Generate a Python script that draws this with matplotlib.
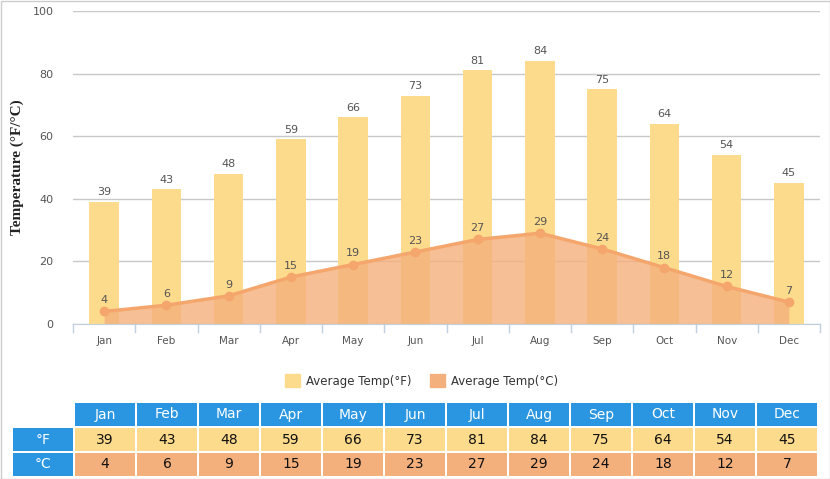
import numpy as np
import matplotlib
matplotlib.use("Agg")
import matplotlib.pyplot as plt
from matplotlib.patches import Rectangle

# ── Daten ──────────────────────────────────────────────────────────────────────
months = ["Jan", "Feb", "Mar", "Apr", "May", "Jun",
          "Jul", "Aug", "Sep", "Oct", "Nov", "Dec"]
temp_f = [39, 43, 48, 59, 66, 73, 81, 84, 75, 64, 54, 45]
temp_c = [4, 6, 9, 15, 19, 23, 27, 29, 24, 18, 12, 7]
y_ticks = [0, 20, 40, 60, 80, 100]

C_BAR = "#FDDB8C"
C_AREA = "#F4B07C"
C_LINE = "#F4A66C"
C_HEAD = "#2A96E2"
C_TEXT = "#555555"

W, H = 830, 479
fig = plt.figure(figsize=(W / 100, H / 100), dpi=100)


def fig_box(x0, y0, x1, y1):
    # Pixelbox (oben links) -> Figurkoordinaten
    return [x0 / W, 1 - y1 / H, (x1 - x0) / W, (y1 - y0) / H]


# ── Hauptdiagramm ──────────────────────────────────────────────────────────────
ax = fig.add_axes(fig_box(73, 11, 820, 324))
x = np.arange(len(months))
ax.bar(x, temp_f, width=0.47, color=C_BAR, zorder=2)
ax.fill_between(x, temp_c, 0, color=C_AREA, alpha=0.8, lw=0, zorder=3)
ax.plot(x, temp_c, color=C_LINE, lw=2.5, marker="o", ms=6, zorder=4)

for xi, v in zip(x, temp_f):
    ax.text(xi, v + 1.5, str(v), ha="center", va="bottom", fontsize=8, color=C_TEXT, zorder=5)
for xi, v in zip(x, temp_c):
    ax.text(xi, v + 2.0, str(v), ha="center", va="bottom", fontsize=8, color=C_TEXT, zorder=5)

ax.set_xlim(-0.5, len(months) - 0.5)
ax.set_ylim(0, 100)
ax.set_yticks(y_ticks)
ax.set_yticklabels([str(t) for t in y_ticks], fontsize=8, color=C_TEXT)
ax.set_xticks(x)
ax.set_xticklabels(months, fontsize=7.5, color=C_TEXT)
ax.tick_params(axis="x", length=0, pad=9)
ax.tick_params(axis="y", length=0, pad=14)
# Kategorie-Trennstriche unter der Achse
for b in np.arange(-0.5, len(months), 1.0):
    ax.plot([b, b], [0, -2.6], color="#C0D0E0", lw=1, clip_on=False, zorder=1)
ax.grid(axis="y", color="#C8C8C8", lw=1, zorder=0)
ax.set_axisbelow(True)
for s in ["top", "right", "left"]:
    ax.spines[s].set_visible(False)
ax.spines["bottom"].set_color("#C0D0E0")
ax.spines["bottom"].set_zorder(6)
ax.set_ylabel("Temperature (°F/°C)", family="Liberation Serif", fontsize=11,
              fontweight="bold", color="#222222", labelpad=6)

# ── Legende ────────────────────────────────────────────────────────────────────
fig.patches.append(Rectangle((285 / W, 1 - 387 / H), 15 / W, 13 / H,
                             transform=fig.transFigure, color=C_BAR))
fig.text(306 / W, 1 - 381 / H, "Average Temp(°F)", fontsize=8.5, color="#333333", va="center")
fig.patches.append(Rectangle((430 / W, 1 - 387 / H), 15 / W, 13 / H,
                             transform=fig.transFigure, color=C_AREA))
fig.text(451 / W, 1 - 381 / H, "Average Temp(°C)", fontsize=8.5, color="#333333", va="center")

# ── Tabelle ────────────────────────────────────────────────────────────────────
tab = fig.add_axes(fig_box(0, 0, W, H))
tab.set_xlim(0, W)
tab.set_ylim(H, 0)
tab.axis("off")

rows = [(403, 426), (428, 451), (453, 476)]
col_w = (817 - 75 + 2) / 12.0
gap = 2
# Zeilenkoepfe
for (y0, y1), lab, in zip(rows[1:], ["°F", "°C"]):
    tab.add_patch(Rectangle((13, y0), 60, y1 - y0, color=C_HEAD, lw=0))
    tab.text(43, (y0 + y1) / 2, lab, ha="center", va="center", fontsize=10, color="white")

for i, m in enumerate(months):
    cx0 = 75 + i * col_w
    cx1 = cx0 + col_w - gap
    cx = (cx0 + cx1) / 2
    for (y0, y1), col, txt, tc in zip(rows, [C_HEAD, C_BAR, C_AREA],
                                      [m, str(temp_f[i]), str(temp_c[i])],
                                      ["white", "#111111", "#111111"]):
        tab.add_patch(Rectangle((cx0, y0), cx1 - cx0, y1 - y0, color=col, lw=0))
        tab.text(cx, (y0 + y1) / 2, txt, ha="center", va="center", fontsize=10, color=tc)

# Rahmen
tab.add_patch(Rectangle((0.5, 0.5), W - 1, H - 1, fill=False, ec="#CCCCCC", lw=1))

fig.savefig("out.png", dpi=100)
